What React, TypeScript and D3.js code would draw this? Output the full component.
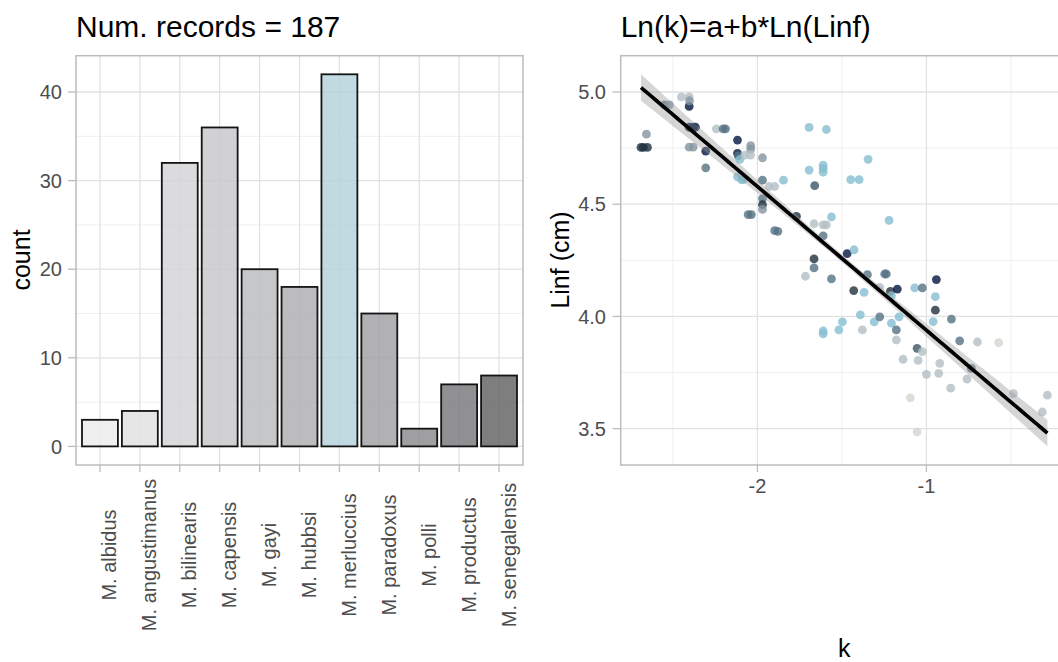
import React from "react";
import * as d3 from "d3";

// ---------- Data ----------
const species = [
  "M. albidus", "M. angustimanus", "M. bilinearis", "M. capensis", "M. gayi",
  "M. hubbsi", "M. merluccius", "M. paradoxus", "M. polli", "M. productus", "M. senegalensis",
];
const counts = [3, 4, 32, 36, 20, 18, 42, 15, 2, 7, 8];
const barFills = [
  "#ebebeb", "#e0e0e0", "#d3d3d6", "#c7c7ca", "#babbbd", "#adadb0",
  "#b3d1db", "#a0a0a3", "#8a8a8c", "#78787b", "#626262",
];
const countTicks = [0, 10, 20, 30, 40];
const countMinor = [5, 15, 25, 35];

// scatter: [k, Linf, colour group]
const points: [number, number, string][] = [
  [-2.689, 4.753, "DS"], [-2.675, 4.753, "DS"], [-2.651, 4.753, "DS"], [-2.657, 4.812, "GL"],
  [-2.55, 4.943, "GB"], [-2.521, 4.943, "GL"], [-2.45, 4.978, "LG"], [-2.404, 4.978, "LG"],
  [-2.404, 4.936, "NV"], [-2.402, 4.961, "GL"], [-2.404, 4.843, "NV"], [-2.38, 4.843, "NV"],
  [-2.367, 4.843, "NV"], [-2.404, 4.754, "GL"], [-2.38, 4.754, "GL"], [-2.306, 4.737, "NV"],
  [-2.306, 4.662, "GB"], [-2.243, 4.836, "LG"], [-2.203, 4.836, "GB"], [-2.189, 4.836, "GB"],
  [-2.118, 4.786, "NV"], [-2.04, 4.761, "GL"], [-2.04, 4.746, "GL"], [-2.118, 4.727, "NV"],
  [-2.114, 4.715, "GB"], [-2.104, 4.7, "LB"], [-2.075, 4.719, "LG"], [-2.041, 4.719, "LG"],
  [-1.97, 4.707, "GL"], [-2.118, 4.622, "LB"], [-2.095, 4.61, "LB"], [-2.083, 4.61, "LB"],
  [-1.97, 4.607, "GB"], [-1.846, 4.607, "LB"], [-1.931, 4.579, "LG"], [-1.898, 4.579, "LG"],
  [-1.97, 4.525, "GB"], [-1.97, 4.498, "DS"], [-1.97, 4.477, "GL"], [-2.055, 4.454, "GB"],
  [-2.036, 4.454, "GB"], [-1.898, 4.382, "GB"], [-1.879, 4.379, "GB"], [-1.769, 4.446, "DS"],
  [-1.694, 4.842, "LB"], [-1.592, 4.833, "LB"], [-1.694, 4.652, "LB"], [-1.611, 4.674, "LB"],
  [-1.611, 4.659, "LB"], [-1.611, 4.643, "LB"], [-1.661, 4.583, "GD"], [-1.665, 4.413, "LG"],
  [-1.611, 4.408, "LG"], [-1.592, 4.408, "LG"], [-1.611, 4.359, "GB"], [-1.562, 4.443, "LB"],
  [-1.665, 4.256, "DS"], [-1.665, 4.216, "GB"], [-1.716, 4.179, "LG"], [-1.562, 4.167, "GB"],
  [-1.345, 4.7, "LB"], [-1.448, 4.61, "LB"], [-1.398, 4.61, "LB"], [-1.221, 4.428, "LB"],
  [-1.469, 4.28, "NV"], [-1.428, 4.297, "LB"], [-1.611, 3.935, "LB"], [-1.611, 3.922, "LB"],
  [-1.518, 3.94, "LB"], [-1.497, 3.976, "LB"], [-1.349, 4.186, "GB"], [-1.247, 4.189, "GB"],
  [-1.237, 4.189, "GB"], [-1.43, 4.115, "DS"], [-1.369, 4.107, "LB"], [-1.276, 4.129, "LG"],
  [-1.213, 4.112, "DS"], [-1.172, 4.122, "NV"], [-1.207, 4.092, "LB"], [-1.069, 4.127, "LB"],
  [-1.024, 4.127, "GB"], [-0.941, 4.164, "NV"], [-0.947, 4.088, "LB"], [-0.947, 4.028, "DS"],
  [-0.96, 3.977, "LB"], [-0.852, 3.988, "GB"], [-1.391, 4.007, "LB"], [-1.379, 3.94, "LG"],
  [-1.309, 3.976, "LB"], [-1.276, 3.998, "GB"], [-1.207, 3.97, "LB"], [-1.162, 3.998, "LB"],
  [-1.178, 3.94, "GB"], [-1.178, 3.895, "LG"], [-1.055, 3.858, "GD"], [-1.024, 3.843, "LG"],
  [-1.138, 3.809, "LG"], [-1.049, 3.804, "LG"], [-0.921, 3.791, "LG"], [-0.927, 3.746, "LG"],
  [-1.0, 3.742, "LG"], [-0.803, 3.891, "GB"], [-0.698, 3.886, "LG"], [-0.572, 3.883, "BG"],
  [-0.856, 3.68, "LG"], [-0.76, 3.721, "LG"], [-0.734, 3.768, "GB"], [-1.095, 3.637, "BG"],
  [-1.055, 3.485, "BG"], [-0.485, 3.656, "LG"], [-0.284, 3.649, "LG"], [-0.314, 3.574, "LG"],
];
const groupColors: Record<string, string> = {
  NV: "#02143d", DS: "#20313d", GD: "#3d5566", GB: "#557284", GL: "#8495a1",
  LB: "#84bed0", LG: "#b3bfc4", BG: "#d6d6d0",
};
// linear fit Ln(k) ~ Ln(Linf): intercept, slope; CI half-width parameters
const fitCoef = [3.2982, -0.6403];
const ciParams = [0.017, 0.0471, -1.49]; // min half-width, spread, centre
const kMajor = [-2, -1];
const kMinor = [-2.5, -1.5, -0.5];
const linfMajor = [3.5, 4.0, 4.5, 5.0];
const linfMinor = [3.75, 4.25, 4.75];

// ---------- Layout ----------
const W = 1058, H = 662;
const top = 55.7, bottom = 465;
const L = { x0: 76, x1: 523 };
const R = { x0: 620.7, x1: 1067.7 };
const FONT = "'Liberation Sans', Arial, Helvetica, sans-serif";
const tickCol = "#4d4d4d";
const gridMajor = "#e2e2e2";
const gridMinor = "#efefef";
const borderCol = "#bcbcbc";
const TICK_FS = 20;
const AXIS_FS = 25;
const TITLE_FS = 30;

export default function App() {
  // left panel scales
  const xBand = d3.scaleBand<string>().domain(species).range([L.x0, L.x1]).paddingInner(0.1).paddingOuter(0.15);
  const cMax = d3.max(counts)!;
  const yCount = d3.scaleLinear().domain([-cMax * 0.05, cMax * 1.05]).range([bottom, top]);
  const center = (s: string) => xBand(s)! + xBand.bandwidth() / 2;

  // right panel
  const fitY = (x: number) => fitCoef[0] + fitCoef[1] * x;
  const halfW = (x: number) => Math.sqrt(ciParams[0] ** 2 + (ciParams[1] * (x - ciParams[2])) ** 2);
  const kExt = d3.extent(points, (p) => p[0]) as [number, number];
  const xs = d3.range(0, 81).map((i) => kExt[0] + ((kExt[1] - kExt[0]) * i) / 80);
  const ribbon = xs.map((x) => ({ x, lo: fitY(x) - halfW(x), hi: fitY(x) + halfW(x) }));
  const yLo = Math.min(d3.min(points, (p) => p[1])!, d3.min(ribbon, (r) => r.lo)!);
  const yHi = Math.max(d3.max(points, (p) => p[1])!, d3.max(ribbon, (r) => r.hi)!);
  const kPad = (kExt[1] - kExt[0]) * 0.05;
  const yPad = (yHi - yLo) * 0.05;
  const xK = d3.scaleLinear().domain([kExt[0] - kPad, kExt[1] + kPad]).range([R.x0, R.x1]);
  const yL = d3.scaleLinear().domain([yLo - yPad, yHi + yPad]).range([bottom, top]);
  const area = d3.area<{ x: number; lo: number; hi: number }>()
    .x((d) => xK(d.x)).y0((d) => yL(d.lo)).y1((d) => yL(d.hi));
  const line = d3.line<number>().x((x) => xK(x)).y((x) => yL(fitY(x)));

  return (
    <svg width={W} height={H} style={{ position: "absolute", left: 0, top: 0, background: "#fff" }} fontFamily={FONT}>
      <rect x={0} y={0} width={W} height={H} fill="#fff" />
      {/* ---------- Left panel ---------- */}
      <g>
        {countMinor.map((v) => (
          <line key={"cm" + v} x1={L.x0} x2={L.x1} y1={yCount(v)} y2={yCount(v)} stroke={gridMinor} strokeWidth={1} />
        ))}
        {countTicks.map((v) => (
          <line key={"cM" + v} x1={L.x0} x2={L.x1} y1={yCount(v)} y2={yCount(v)} stroke={gridMajor} strokeWidth={1.3} />
        ))}
        {species.map((s) => (
          <line key={"vg" + s} x1={center(s)} x2={center(s)} y1={top} y2={bottom} stroke={gridMajor} strokeWidth={1.3} />
        ))}
        {species.map((s, i) => (
          <rect key={"b" + s} x={xBand(s)} y={yCount(counts[i])} width={xBand.bandwidth()}
            height={yCount(0) - yCount(counts[i])} fill={barFills[i]} fillOpacity={0.82}
            stroke="#141414" strokeWidth={1.8} />
        ))}
        <rect x={L.x0} y={top} width={L.x1 - L.x0} height={bottom - top} fill="none" stroke={borderCol} strokeWidth={1.5} />
        {countTicks.map((v) => (
          <g key={"ct" + v}>
            <line x1={L.x0 - 8} x2={L.x0} y1={yCount(v)} y2={yCount(v)} stroke={borderCol} strokeWidth={1.3} />
            <text x={62} y={yCount(v)} dy="0.36em" textAnchor="end" fontSize={TICK_FS} fill={tickCol}>{v}</text>
          </g>
        ))}
        {species.map((s) => (
          <g key={"xt" + s}>
            <line x1={center(s)} x2={center(s)} y1={bottom} y2={bottom + 7} stroke={borderCol} strokeWidth={1.3} />
            <text transform={`translate(${center(s) + 16.5},555) rotate(-90)`} textAnchor="middle" fontSize={TICK_FS} fill={tickCol}>{s}</text>
          </g>
        ))}
        <text transform="translate(30,260) rotate(-90)" textAnchor="middle" fontSize={AXIS_FS} fill="#000">count</text>
        <text x={L.x0} y={37} fontSize={TITLE_FS} fill="#000">Num. records = 187</text>
      </g>

      {/* ---------- Right panel ---------- */}
      <g>
        {linfMinor.map((v) => (
          <line key={"lm" + v} x1={R.x0} x2={R.x1} y1={yL(v)} y2={yL(v)} stroke={gridMinor} strokeWidth={1} />
        ))}
        {kMinor.map((v) => (
          <line key={"km" + v} x1={xK(v)} x2={xK(v)} y1={top} y2={bottom} stroke={gridMinor} strokeWidth={1} />
        ))}
        {linfMajor.map((v) => (
          <line key={"lM" + v} x1={R.x0} x2={R.x1} y1={yL(v)} y2={yL(v)} stroke={gridMajor} strokeWidth={1.3} />
        ))}
        {kMajor.map((v) => (
          <line key={"kM" + v} x1={xK(v)} x2={xK(v)} y1={top} y2={bottom} stroke={gridMajor} strokeWidth={1.3} />
        ))}
        {points.map((p, i) => (
          <circle key={"p" + i} cx={xK(p[0])} cy={yL(p[1])} r={4.4} fill={groupColors[p[2]]} fillOpacity={0.8} />
        ))}
        <path d={area(ribbon) || ""} fill="#999999" fillOpacity={0.4} />
        <path d={line(xs) || ""} fill="none" stroke="#000" strokeWidth={3.7} />
        <rect x={R.x0} y={top} width={R.x1 - R.x0} height={bottom - top} fill="none" stroke={borderCol} strokeWidth={1.5} />
        {linfMajor.map((v) => (
          <g key={"lt" + v}>
            <line x1={R.x0 - 8} x2={R.x0} y1={yL(v)} y2={yL(v)} stroke={borderCol} strokeWidth={1.3} />
            <text x={606} y={yL(v)} dy="0.36em" textAnchor="end" fontSize={TICK_FS} fill={tickCol}>{v.toFixed(1)}</text>
          </g>
        ))}
        {kMajor.map((v) => (
          <g key={"kt" + v}>
            <line x1={xK(v)} x2={xK(v)} y1={bottom} y2={bottom + 7} stroke={borderCol} strokeWidth={1.3} />
            <text x={xK(v)} y={493} textAnchor="middle" fontSize={TICK_FS} fill={tickCol}>{v}</text>
          </g>
        ))}
        <text transform="translate(568.5,260) rotate(-90)" textAnchor="middle" fontSize={AXIS_FS} fill="#000">Linf (cm)</text>
        <text x={(R.x0 + R.x1) / 2} y={657} textAnchor="middle" fontSize={AXIS_FS} fill="#000">k</text>
        <text x={R.x0} y={37} fontSize={TITLE_FS} fill="#000">Ln(k)=a+b*Ln(Linf)</text>
      </g>
    </svg>
  );
}
